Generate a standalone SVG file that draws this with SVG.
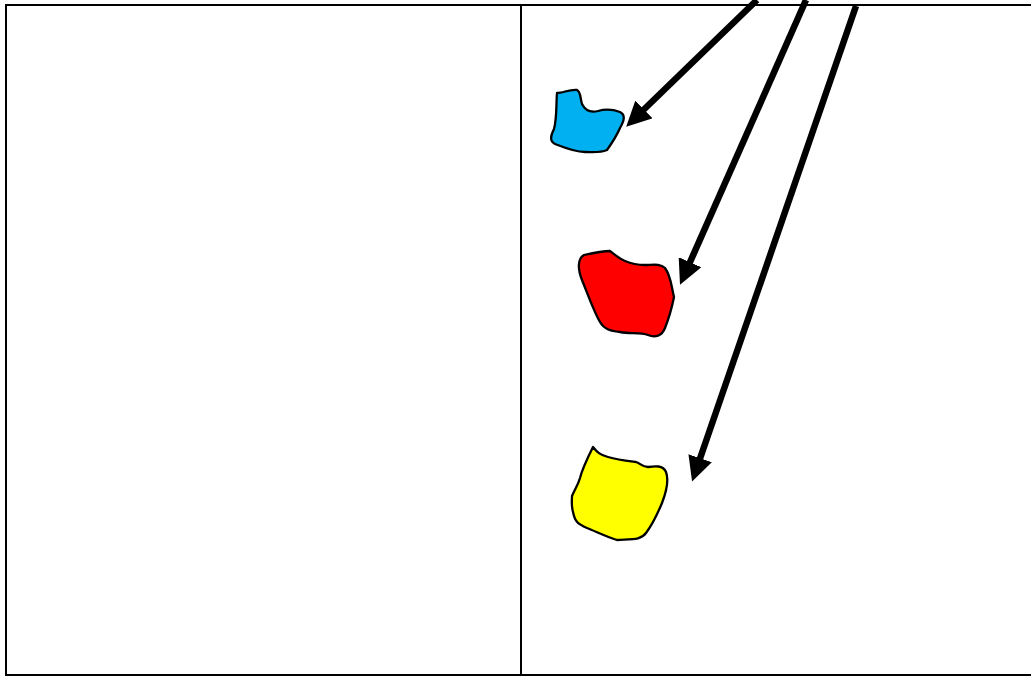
<svg xmlns="http://www.w3.org/2000/svg" width="1031" height="677" viewBox="0 0 1031 677">
<style>
.frame{fill:none;stroke:#000;stroke-width:2}
.blob{stroke:#000;stroke-width:2.3;stroke-linejoin:round}
.arrow{fill:none;stroke:#000;stroke-width:6.5;marker-end:url(#head)}
</style>
<defs>
<marker id="head" viewBox="0 0 10 10" refX="7" refY="5" markerWidth="3.8" markerHeight="3.8" orient="auto" markerUnits="strokeWidth">
<path d="M0,0 L10,5 L0,10 Z" fill="#000"/>
</marker>
</defs>
<rect width="1031" height="677" fill="#fff"/>
<g id="frame">
<path class="frame" d="M1040,5 H6 V675 H1040"/>
<line class="frame" x1="521" y1="5" x2="521" y2="675"/>
</g>
<g id="blue-shape">
<path class="blob" fill="#00b0f0" d="M557,93 C563,93 570,89 577,90 C581,92 580,98 582,104 C585,110 590,113 598,111 C605,109 612,109 620,112 C626,115 624,121 620,128 C617,135 612,143 607,150 C600,153 593,152 585,152 C575,152 565,148 555,144 C549,141 551,135 554,129 C557,118 556,105 557,93 Z"/>
</g>
<g id="red-shape">
<path class="blob" fill="#f00" d="M584,255 C593,253 602,251 610,251 C614,254 618,258 625,261 C632,264 638,265 645,265 C652,265 660,263 665,268 C671,276 671,285 674,297 C672,307 669,318 665,328 C662,336 655,338 648,335 C640,332 630,334 620,332 C610,331 604,329 600,322 C594,312 588,295 582,280 C578,270 577,259 584,255 Z"/>
</g>
<g id="yellow-shape">
<path class="blob" fill="#ff0" d="M593,447 C597,452 600,455 608,457 C618,460 628,461 636,462 C640,463 642,467 648,467 C655,466 663,465 666,472 C669,480 667,490 662,503 C657,515 652,525 646,533 C641,540 633,539 617,540 C607,537 597,532 587,528 C578,524 575,522 573,512 C571,505 572,500 572,496 C575,489 578,485 580,478 C582,470 588,457 593,447 Z"/>
</g>
<g id="connectors">
<line class="arrow" x1="757" y1="0" x2="631.5" y2="121.5"/>
<line class="arrow" x1="806" y1="0" x2="683" y2="278"/>
<line class="arrow" x1="856" y1="6" x2="694.5" y2="474.5"/>
</g>
</svg>
